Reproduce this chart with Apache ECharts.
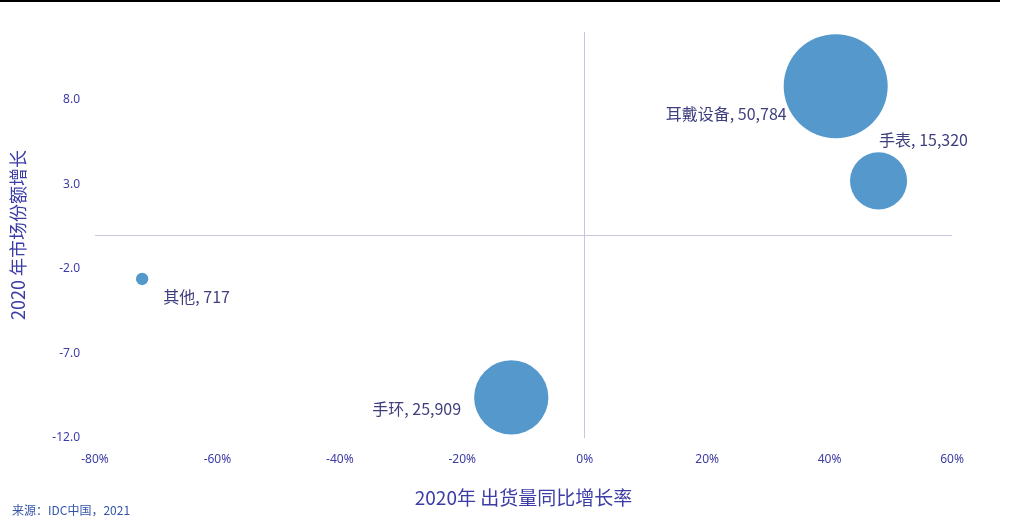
<!DOCTYPE html>
<html>
<head>
<meta charset="utf-8">
<style>
  html, body { margin: 0; padding: 0; background: #ffffff; }
  #chart { width: 1011px; height: 528px; }
</style>
<script src="https://cdn.jsdelivr.net/npm/echarts@6/dist/echarts.min.js"></script>
</head>
<body>
<div id="chart"></div>
<script>
// Wearable device categories, 2020
const categories = ['耳戴设备', '手表', '手环', '其他'];
// Shipment YoY growth (%)
const shipmentGrowth = [41, 48, -12, -72.3];
// Market share change
const shareGrowth = [8.8, 3.2, -9.6, -2.6];
// Shipments (10k units), drives bubble area
const shipments = [50784, 15320, 25909, 717];

const xTickLabels = ['-80%', '-60%', '-40%', '-20%', '0%', '20%', '40%', '60%'];
const yTickLabels = ['-12.0', '-7.0', '-2.0', '3.0', '8.0'];

const textColor = '#3c3ca6';
const labelColor = '#3f3f7e';
const bubbleColor = '#5599cc';
const crossColor = '#c6c6df';

// label placement per bubble
const labelPlacement = [
  { position: 'left', offset: [8, 28] },
  { position: 'top', offset: [45, 1] },
  { position: 'left', offset: [-8, 12] },
  { position: 'right', offset: [10, 18] }
];

const fmt = v => v.toLocaleString('en-US');

const data = categories.map((name, i) => ({
  name: name,
  value: [shipmentGrowth[i], shareGrowth[i], shipments[i]],
  label: {
    show: true,
    position: labelPlacement[i].position,
    offset: labelPlacement[i].offset,
    formatter: name + ', ' + fmt(shipments[i])
  }
}));

const chart = echarts.init(document.getElementById('chart'));
chart.setOption({
  backgroundColor: '#ffffff',
  animation: false,
  grid: { left: 95, right: 59, top: 32, bottom: 90 },
  graphic: [
    { type: 'rect', left: 0, top: 0, shape: { width: 1000, height: 2 }, style: { fill: '#000000' } },
    {
      type: 'text', left: 12, top: 504,
      style: { text: '来源：IDC中国，2021', fill: '#3355aa', font: '12px "Noto Sans CJK SC", sans-serif' }
    }
  ],
  xAxis: {
    type: 'value',
    min: -80, max: 60, interval: 20,
    name: '2020年 出货量同比增长率',
    nameLocation: 'middle',
    nameGap: 50,
    nameTextStyle: { color: textColor, fontSize: 19, fontFamily: '"Noto Sans CJK SC", sans-serif' },
    axisLine: { show: false },
    axisTick: { show: false },
    splitLine: { show: false },
    axisLabel: {
      color: textColor, fontSize: 12, margin: 16,
      fontFamily: '"Noto Sans", sans-serif',
      formatter: v => xTickLabels[Math.round((v + 80) / 20)] || ''
    }
  },
  yAxis: {
    type: 'value',
    min: -12, max: 12, interval: 5,
    name: '2020 年市场份额增长',
    nameLocation: 'middle',
    nameGap: 68,
    nameRotate: 90,
    nameTextStyle: { color: textColor, fontSize: 18, fontFamily: '"Noto Sans CJK SC", sans-serif' },
    axisLine: { show: false },
    axisTick: { show: false },
    splitLine: { show: false },
    axisLabel: {
      color: textColor, fontSize: 12, margin: 15,
      fontFamily: '"Noto Sans", sans-serif',
      showMaxLabel: false,
      formatter: v => {
        const idx = yTickLabels.indexOf(v.toFixed(1));
        return idx >= 0 ? yTickLabels[idx] : '';
      }
    }
  },
  series: [{
    type: 'scatter',
    data: data,
    symbolSize: v => Math.sqrt(v[2]) * 0.4615,
    itemStyle: { color: bubbleColor, opacity: 1 },
    label: {
      color: labelColor,
      fontSize: 16,
      fontFamily: '"Noto Sans CJK SC", sans-serif'
    },
    markLine: {
      silent: true,
      symbol: 'none',
      label: { show: false },
      lineStyle: { color: crossColor, type: 'solid', width: 1 },
      data: [{ xAxis: 0 }, { yAxis: 0 }]
    }
  }]
});
</script>
</body>
</html>
